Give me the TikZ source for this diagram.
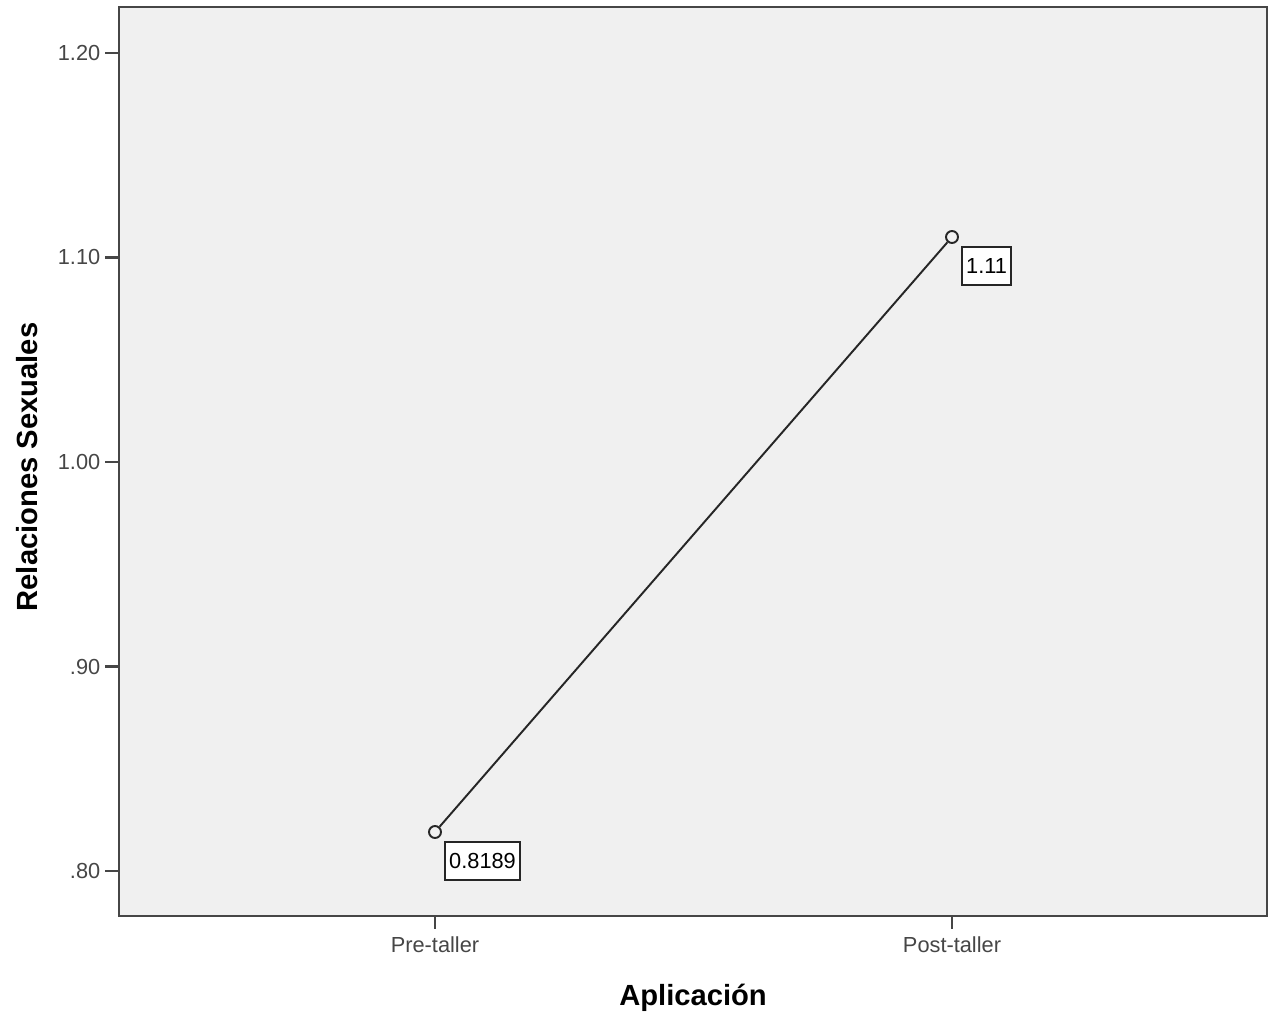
\documentclass[tikz,border=0pt]{standalone}
\usepackage{fontspec}
\setmainfont{Liberation Sans}
\usetikzlibrary{positioning}

\definecolor{plotbg}{RGB}{240,240,240}
\definecolor{framegray}{RGB}{70,70,70}

\begin{document}
\begin{tikzpicture}[x=0.02cm,y=-0.02cm,
    ticklabel/.style={font={\fontsize{12.4}{14}\selectfont},inner sep=0pt},
    axistitle/.style={font={\fontsize{16.6}{19}\selectfont\bfseries},inner sep=0pt},
    meanpt/.style={circle,draw=black!85,line width=1.1pt,inner sep=0pt,
        minimum size=0.24cm},
    valuebox/.style={draw=black!85,fill=white,line width=0.9pt,
        font={\fontsize{12.4}{14}\selectfont},inner xsep=0.08cm,inner ysep=0pt,
        minimum height=0.76cm}]
\useasboundingbox (0,0) rectangle (1274,1013);

% plot area
\draw[line width=1.4pt,draw=framegray,fill=plotbg] (119,7) rectangle (1267,916);

% y axis ticks
\foreach \v/\lab [count=\i] in {0.8/.80,0.9/.90,1.0/1.00,1.1/1.10,1.2/1.20}{
    \pgfmathsetmacro\yy{871-(\v-0.8)*2045}
    \draw[line width=1.4pt,framegray] (119,\yy) -- (105,\yy)
        node[left=0.07cm,ticklabel] (ylab\i) {\lab};
}

% x axis ticks
\foreach \xx/\lab [count=\i] in {435/Pre-taller,952/Post-taller}{
    \draw[line width=1.4pt,framegray] (\xx,916) -- (\xx,929)
        node[below=0.13cm,ticklabel] (xlab\i) {\lab};
}

% means
\node[meanpt] (pre) at (435,832) {};
\node[meanpt] (post) at (952,237) {};
\draw[line width=1.1pt,black!85] (pre) -- (post);

\node[valuebox,below right=0.09cm and 0.09cm of pre] (prelab) {0.8189};
\node[valuebox,below right=0.09cm and 0.09cm of post] (postlab) {1.11};

% axis titles
\node[axistitle,anchor=base] (xtitle) at (693,1005) {Aplicación};
\node[axistitle,anchor=base,rotate=90] (ytitle) at (37,467) {Relaciones Sexuales};
\end{tikzpicture}
\end{document}
